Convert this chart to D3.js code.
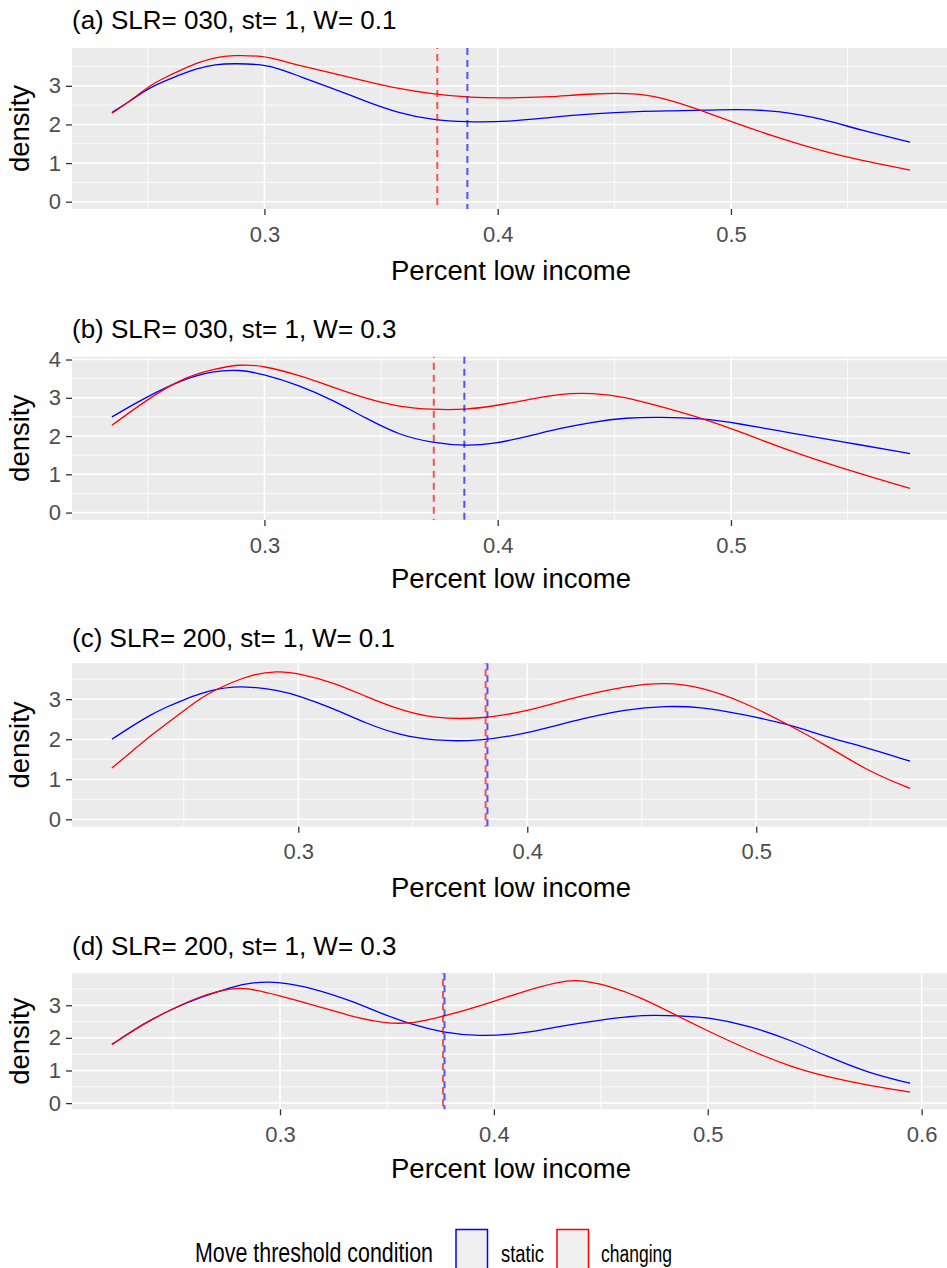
<!DOCTYPE html>
<html>
<head>
<meta charset="utf-8">
<script src="https://cdn.jsdelivr.net/npm/d3@7"></script>
<style>
body { margin: 0; background: #fff; }
svg { display: block; font-family: "Liberation Sans", Arial, sans-serif; }
</style>
</head>
<body>
<svg id="drawing_region"></svg>
<script>
// ---- data ----
const panelTitles = [
    "(a) SLR= 030, st= 1, W= 0.1",
    "(b) SLR= 030, st= 1, W= 0.3",
    "(c) SLR= 200, st= 1, W= 0.1",
    "(d) SLR= 200, st= 1, W= 0.3"
];
const seriesNames = ["static", "changing"];
const seriesColors = ["#0000ff", "#ff0000"];
const xTickValues = [0.2, 0.3, 0.4, 0.5, 0.6];
const xLabel = "Percent low income";
const yLabel = "density";
const legendTitle = "Move threshold condition";

const aX = [0.2346, 0.2432, 0.2503, 0.2575, 0.2646, 0.2718, 0.279, 0.2861, 0.299, 0.3076, 0.3147, 0.329, 0.3433, 0.3576, 0.3719, 0.3862, 0.405, 0.422, 0.4406, 0.4606, 0.475, 0.4907, 0.502, 0.5209, 0.5408, 0.555, 0.5768];
const aStatic = [2.31, 2.64, 2.94, 3.13, 3.31, 3.46, 3.55, 3.58, 3.56, 3.42, 3.25, 2.94, 2.60, 2.29, 2.12, 2.06, 2.07, 2.18, 2.28, 2.34, 2.35, 2.37, 2.39, 2.36, 2.12, 1.86, 1.54];
const aChanging = [2.29, 2.64, 2.99, 3.22, 3.42, 3.61, 3.74, 3.79, 3.78, 3.65, 3.53, 3.33, 3.12, 2.92, 2.79, 2.70, 2.68, 2.71, 2.80, 2.82, 2.62, 2.29, 2.03, 1.64, 1.28, 1.08, 0.82];

const bX = [0.2346, 0.2493, 0.265, 0.2778, 0.2893, 0.2993, 0.315, 0.3293, 0.3436, 0.3579, 0.3721, 0.3864, 0.3979, 0.4122, 0.4265, 0.4408, 0.455, 0.4693, 0.4879, 0.5022, 0.5265, 0.5479, 0.5768];
const bStatic = [2.50, 3.02, 3.48, 3.70, 3.74, 3.62, 3.33, 2.94, 2.46, 2.02, 1.82, 1.74, 1.79, 1.98, 2.20, 2.37, 2.48, 2.50, 2.46, 2.34, 2.07, 1.85, 1.54];
const bChanging = [2.28, 2.94, 3.52, 3.74, 3.88, 3.84, 3.59, 3.28, 2.98, 2.76, 2.69, 2.69, 2.78, 2.94, 3.11, 3.13, 3.02, 2.78, 2.46, 2.15, 1.58, 1.15, 0.63];

const cX = [0.2186, 0.228, 0.2353, 0.2426, 0.2498, 0.2571, 0.2644, 0.2716, 0.2789, 0.2906, 0.3007, 0.3153, 0.3298, 0.3444, 0.3589, 0.3793, 0.3996, 0.4215, 0.4433, 0.4607, 0.4753, 0.4942, 0.5131, 0.5306, 0.5494, 0.5672];
const cStatic = [2.00, 2.35, 2.60, 2.81, 2.98, 3.14, 3.25, 3.31, 3.31, 3.23, 3.08, 2.77, 2.39, 2.10, 1.96, 1.95, 2.14, 2.48, 2.75, 2.83, 2.81, 2.62, 2.39, 2.06, 1.77, 1.45];
const cChanging = [1.28, 1.73, 2.08, 2.39, 2.70, 3.02, 3.25, 3.43, 3.60, 3.71, 3.64, 3.42, 3.06, 2.73, 2.52, 2.50, 2.69, 3.06, 3.33, 3.42, 3.31, 2.94, 2.39, 1.85, 1.18, 0.77];

const dX = [0.2214, 0.2373, 0.2497, 0.2622, 0.2777, 0.2871, 0.2995, 0.3167, 0.3322, 0.3478, 0.3618, 0.3758, 0.3929, 0.4148, 0.4303, 0.4397, 0.4537, 0.4692, 0.4864, 0.5004, 0.5191, 0.5393, 0.5549, 0.5751, 0.5946];
const dStatic = [1.80, 2.48, 2.89, 3.23, 3.57, 3.70, 3.73, 3.50, 3.16, 2.74, 2.40, 2.17, 2.04, 2.14, 2.35, 2.45, 2.58, 2.71, 2.68, 2.63, 2.38, 1.92, 1.46, 0.92, 0.61];
const dChanging = [1.80, 2.48, 2.89, 3.27, 3.55, 3.50, 3.30, 2.99, 2.68, 2.45, 2.43, 2.65, 2.96, 3.45, 3.72, 3.79, 3.60, 3.23, 2.65, 2.20, 1.63, 1.10, 0.82, 0.54, 0.34];

// dashed vertical lines (means)
const meanStatic = [0.3870, 0.3857, 0.3826, 0.3769];
const meanChanging = [0.3741, 0.3726, 0.3818, 0.3762];

const panelX = [aX, bX, cX, dX];
const panelStatic = [aStatic, bStatic, cStatic, dStatic];
const panelChanging = [aChanging, bChanging, cChanging, dChanging];

// ---- layout ----
const width = 947, height = 1268;
const plotLeft = 72, plotRight = 950;
const layout = [
    {top: 48,    bottom: 209,    title: 29.3,  xtitle: 280},
    {top: 356.7, bottom: 520,    title: 338,   xtitle: 588},
    {top: 663.3, bottom: 826.7,  title: 646.7, xtitle: 896.7},
    {top: 973.3, bottom: 1109.3, title: 955,   xtitle: 1178}
];

const svg = d3.select('#drawing_region')
    .attr('width', width)
    .attr('height', height);

const fmt = d3.format('.1f');

panelTitles.forEach((title, i) => {
    const L = layout[i];
    const xs = panelX[i];
    const series = [panelStatic[i], panelChanging[i]];
    const means = [meanStatic[i], meanChanging[i]];

    // ggplot-style 5% expansion, y range includes 0
    const xmin = d3.min(xs), xmax = d3.max(xs);
    const xpad = (xmax - xmin) * 0.05;
    const ymax = d3.max(series.flat());
    const ypad = ymax * 0.05;

    const xscale = d3.scaleLinear()
        .domain([xmin - xpad, xmax + xpad])
        .range([plotLeft, plotRight]);
    const yscale = d3.scaleLinear()
        .domain([-ypad, ymax + ypad])
        .range([L.bottom, L.top]);

    const xMajor = xTickValues.filter(v => v >= xscale.domain()[0] && v <= xscale.domain()[1]);
    const xMinor = d3.range(xTickValues.length - 1)
        .map(k => (xTickValues[k] + xTickValues[k + 1]) / 2)
        .filter(v => v >= xscale.domain()[0] && v <= xscale.domain()[1]);
    const yMajor = d3.range(0, Math.floor(ymax + ypad) + 1);
    const yMinor = yMajor.map(v => v + 0.5).filter(v => v <= ymax + ypad);

    const g = svg.append('g');

    // panel background
    g.append('rect')
        .attr('x', plotLeft)
        .attr('y', L.top)
        .attr('width', plotRight - plotLeft)
        .attr('height', L.bottom - L.top)
        .attr('fill', '#ebebeb');

    // grid
    g.selectAll('.yminor').data(yMinor).enter().append('line')
        .attr('x1', plotLeft).attr('x2', plotRight)
        .attr('y1', d => yscale(d)).attr('y2', d => yscale(d))
        .attr('stroke', '#fff').attr('stroke-width', 0.8);
    g.selectAll('.xminor').data(xMinor).enter().append('line')
        .attr('y1', L.top).attr('y2', L.bottom)
        .attr('x1', d => xscale(d)).attr('x2', d => xscale(d))
        .attr('stroke', '#fff').attr('stroke-width', 0.8);
    g.selectAll('.ymajor').data(yMajor).enter().append('line')
        .attr('x1', plotLeft).attr('x2', plotRight)
        .attr('y1', d => yscale(d)).attr('y2', d => yscale(d))
        .attr('stroke', '#fff').attr('stroke-width', 1.6);
    g.selectAll('.xmajor').data(xMajor).enter().append('line')
        .attr('y1', L.top).attr('y2', L.bottom)
        .attr('x1', d => xscale(d)).attr('x2', d => xscale(d))
        .attr('stroke', '#fff').attr('stroke-width', 1.6);

    // density curves
    const line = d3.line()
        .x((d, k) => xscale(xs[k]))
        .y(d => yscale(d))
        .curve(d3.curveBasis);

    series.forEach((vals, s) => {
        g.append('path')
            .attr('d', line(vals))
            .attr('fill', 'none')
            .attr('stroke', seriesColors[s])
            .attr('stroke-width', 1.3);
    });

    // dashed mean lines
    means.forEach((m, s) => {
        g.append('line')
            .attr('x1', xscale(m)).attr('x2', xscale(m))
            .attr('y1', L.top).attr('y2', L.bottom)
            .attr('stroke', seriesColors[s])
            .attr('stroke-opacity', 0.65)
            .attr('stroke-width', 2)
            .attr('stroke-dasharray', '7,5')
            .attr('stroke-dashoffset', s === 0 ? 0 : 6);
    });

    // axes
    const xaxis = d3.axisBottom(xscale)
        .tickValues(xMajor)
        .tickFormat(fmt)
        .tickSize(6)
        .tickPadding(11)
        .tickSizeOuter(0);
    const yaxis = d3.axisLeft(yscale)
        .tickValues(yMajor)
        .tickFormat(d3.format('d'))
        .tickSize(6)
        .tickPadding(5)
        .tickSizeOuter(0);

    const xg = g.append('g')
        .attr('transform', `translate(0, ${L.bottom})`)
        .call(xaxis);
    const yg = g.append('g')
        .attr('transform', `translate(${plotLeft}, 0)`)
        .call(yaxis);

    [xg, yg].forEach(ax => {
        ax.select('.domain').remove();
        ax.selectAll('.tick line').attr('stroke', '#333').attr('stroke-width', 1.3);
        ax.selectAll('.tick text')
            .attr('fill', '#4d4d4d')
            .attr('font-size', '22px')
            .attr('font-family', '"Liberation Sans", Arial, sans-serif');
    });

    // titles
    g.append('text')
        .attr('x', plotLeft)
        .attr('y', L.title)
        .attr('font-size', '26px')
        .attr('fill', '#000')
        .text(title);

    g.append('text')
        .attr('x', (plotLeft + plotRight) / 2)
        .attr('y', L.xtitle)
        .attr('text-anchor', 'middle')
        .attr('font-size', '27.5px')
        .attr('fill', '#000')
        .text(xLabel);

    g.append('text')
        .attr('transform', `translate(29, ${(L.top + L.bottom) / 2}) rotate(-90)`)
        .attr('text-anchor', 'middle')
        .attr('font-size', '27.5px')
        .attr('fill', '#000')
        .text(yLabel);
});

// ---- legend (horizontally squeezed in the picture) ----
const legend = svg.append('g');
legend.append('text')
    .attr('x', 195)
    .attr('y', 1261.5)
    .attr('font-size', '27.5px')
    .attr('textLength', 238)
    .attr('lengthAdjust', 'spacingAndGlyphs')
    .text(legendTitle);

const keyX = [456, 557];
const labelX = [501, 601];
const labelW = [43, 71];
seriesNames.forEach((name, s) => {
    legend.append('rect')
        .attr('x', keyX[s])
        .attr('y', 1229.5)
        .attr('width', 31.5)
        .attr('height', 45)
        .attr('fill', '#f0f0f0')
        .attr('stroke', seriesColors[s])
        .attr('stroke-width', 1.5);
    legend.append('text')
        .attr('x', labelX[s])
        .attr('y', 1261.5)
        .attr('font-size', '23px')
        .attr('textLength', labelW[s])
        .attr('lengthAdjust', 'spacingAndGlyphs')
        .text(name);
});
</script>
</body>
</html>
